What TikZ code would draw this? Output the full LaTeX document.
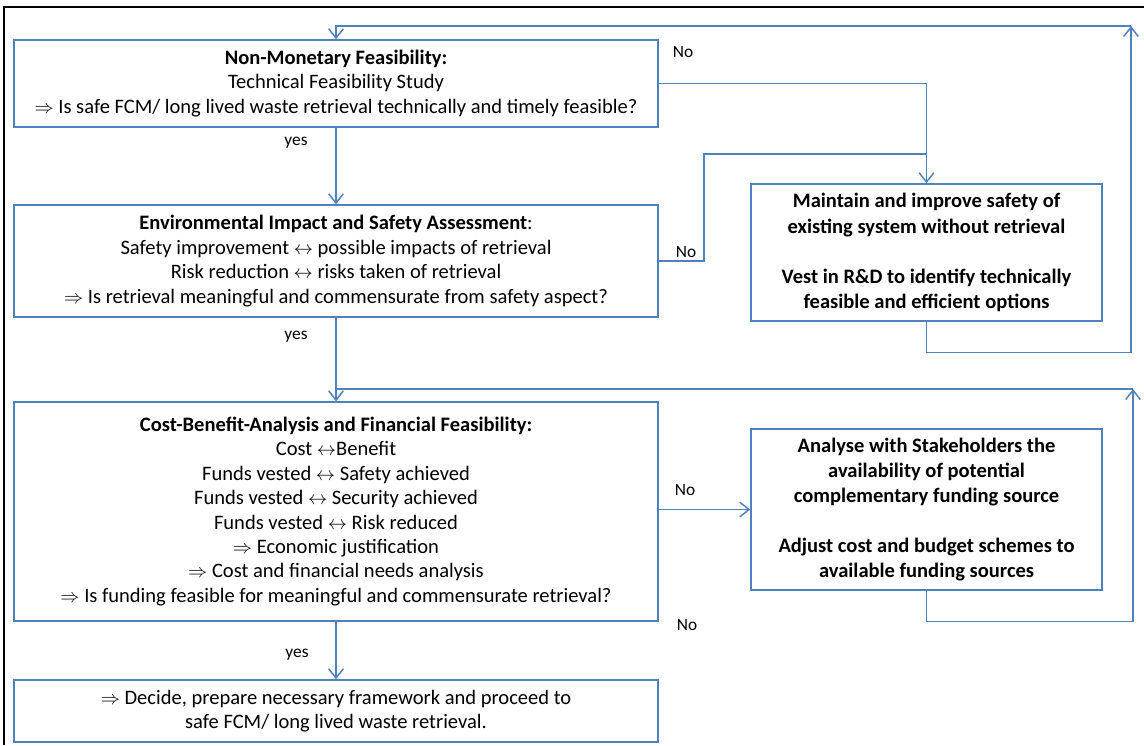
\documentclass[tikz,border=0pt]{standalone}
\usepackage{fontspec}
\setmainfont{Carlito}
\usetikzlibrary{arrows.meta, positioning, calc}
\definecolor{sblue}{HTML}{4F81BD}
\newlength{\pxl}
\setlength{\pxl}{0.75pt}
\tikzset{
  >={Straight Barb[length=7pt,width=11pt]},
  stage/.style={
    draw=sblue, fill=white, line width=1.1pt, align=center, inner sep=0pt,
    minimum width=644\pxl, font=\fontsize{15.4}{18.3}\selectfont
  },
  option/.style={
    draw=sblue, fill=white, line width=1.1pt, align=center, inner sep=0pt,
    minimum width=351\pxl, font=\fontsize{15.4}{18.8}\selectfont\bfseries
  },
  link/.style={draw=sblue, line width=1.1pt},
  flowline/.style={link, ->},
  lab/.style={font=\fontsize{13}{15}\selectfont, inner sep=0pt}
}

\begin{document}
\begin{tikzpicture}[x=0.75pt, y=-0.75pt]
  \useasboundingbox (0,0) rectangle (1144,745);
  \draw[line width=2.2pt] (4,745) -- (4,7) -- (1144,7);

  % main column
  \node[stage, minimum height=87\pxl] (feas) at (336,83.5)
    {\textbf{Non-Monetary Feasibility:}\\Technical Feasibility Study\\
     $\Rightarrow$ Is safe FCM/ long lived waste retrieval technically and timely feasible?};
  \node[stage, minimum height=112\pxl] (envi) at (336,261)
    {\textbf{Environmental Impact and Safety Assessment}:\\
     Safety improvement $\leftrightarrow$ possible impacts of retrieval\\
     Risk reduction $\leftrightarrow$ risks taken of retrieval\\
     $\Rightarrow$ Is retrieval meaningful and commensurate from safety aspect?};
  \node[stage, minimum height=219\pxl] (cost) at (336,511.5)
    {\textbf{Cost-Benefit-Analysis and Financial Feasibility:}\\
     Cost $\leftrightarrow$Benefit\\
     Funds vested $\leftrightarrow$ Safety achieved\\
     Funds vested $\leftrightarrow$ Security achieved\\
     Funds vested $\leftrightarrow$ Risk reduced\\
     $\Rightarrow$ Economic justification\\
     $\Rightarrow$ Cost and financial needs analysis\\
     $\Rightarrow$ Is funding feasible for meaningful and commensurate retrieval?};
  \node[stage, minimum height=62\pxl] (decide) at (336,711)
    {$\Rightarrow$ Decide, prepare necessary framework and proceed to\\
     safe FCM/ long lived waste retrieval.};

  % side boxes
  \node[option, minimum height=137\pxl] (keep) at (926.5,252.5)
    {Maintain and improve safety of\\existing system without retrieval\\[18.8pt]
     Vest in R\&D to identify technically\\feasible and efficient options};
  \node[option, minimum height=161\pxl] (fund) at (926.5,509.5)
    {Analyse with Stakeholders the\\availability of potential\\
     complementary funding source\\[18.8pt]
     Adjust cost and budget schemes to\\available funding sources};

  \coordinate (topright) at (1131,26);
  \coordinate (midright) at (1133,389);
  \coordinate (nobend) at (704,154);

  % yes path
  \draw[flowline] (feas) -- (envi);
  \draw[flowline] (envi) -- (cost);
  \draw[flowline] (cost) -- (decide);
  \node[lab] (yes1) at (296,143) {yes};
  \node[lab] (yes2) at (296,337) {yes};
  \node[lab] (yes3) at (297,655) {yes};

  % no paths
  \draw[flowline] (feas.east) -| (keep.north);
  \draw[link] (envi.east) -| (nobend) -- (nobend -| keep.north);
  \draw[flowline] (keep.south) -- ++(0,31) -| (topright);
  \draw[flowline] (topright) -| (feas.north);
  \draw[flowline] (fund.west -| cost.east) -- (fund.west);
  \draw[flowline] (fund.south) -- ++(0,31) -| (midright);
  \draw[link] (midright) -- (midright -| envi.south);
  \node[lab] (no1) at (683,52) {No};
  \node[lab] (no2) at (686,252) {No};
  \node[lab] (no3) at (685,490) {No};
  \node[lab] (no4) at (687,625) {No};
\end{tikzpicture}
\end{document}
